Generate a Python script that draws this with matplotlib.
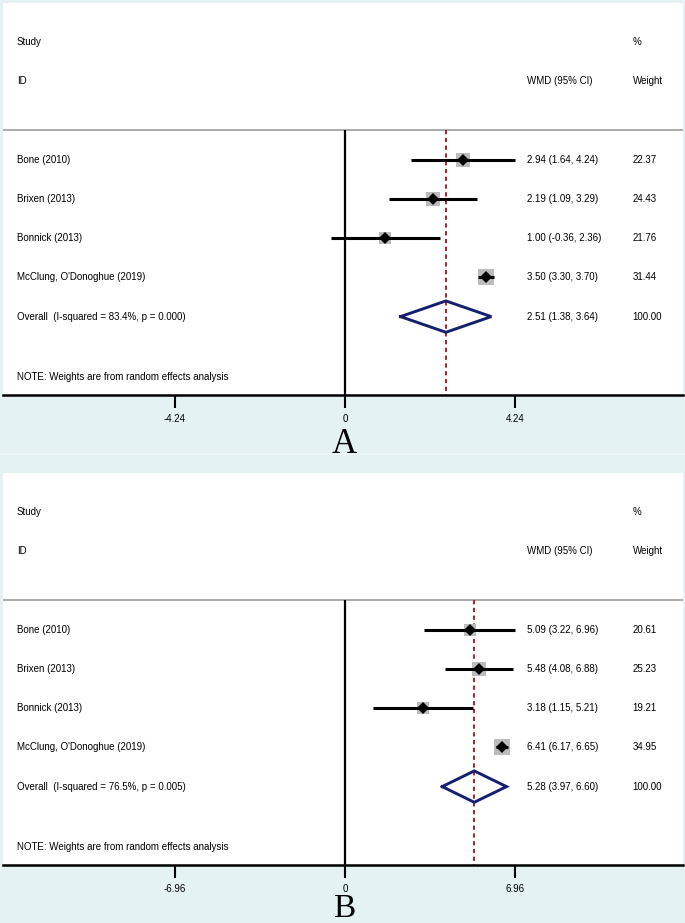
import matplotlib
matplotlib.use("Agg")
import matplotlib.pyplot as plt
import numpy as np

# --- data ---
studies = ["Bone (2010)", "Brixen (2013)", "Bonnick (2013)", "McClung, O'Donoghue (2019)"]

# panel A
a_wmd = [2.94, 2.19, 1.00, 3.50]
a_lo = [1.64, 1.09, -0.36, 3.30]
a_hi = [4.24, 3.29, 2.36, 3.70]
a_weight = [22.37, 24.43, 21.76, 31.44]
a_overall = [2.51, 1.38, 3.64]
a_het = "Overall  (I-squared = 83.4%, p = 0.000)"
a_tick = 4.24

# panel B
b_wmd = [5.09, 5.48, 3.18, 6.41]
b_lo = [3.22, 4.08, 1.15, 6.17]
b_hi = [6.96, 6.88, 5.21, 6.65]
b_weight = [20.61, 25.23, 19.21, 34.95]
b_overall = [5.28, 3.97, 6.60]
b_het = "Overall  (I-squared = 76.5%, p = 0.005)"
b_tick = 6.96

BG = "#e4f2f4"
NAVY = "#141f70"
RED = "#b02020"
BOX = "#bcbcbc"
FONT = "Liberation Sans"
FS = 7.0

W, H = 685, 923
fig = plt.figure(figsize=(W / 100, H / 100), dpi=100, facecolor=BG)


def px_box(top, bottom, left=3, right=683):
    # figure-fraction rect from pixel edges
    return [left / W, 1 - bottom / H, (right - left) / W, (bottom - top) / H]


def draw_panel(ax, wmd, lo, hi, weight, overall, het, tick):
    ax.set_facecolor("white")
    ax.set_xlim(-2.01 * tick, 1.985 * tick)
    ax.set_ylim(7, -3)
    rows = np.arange(1, len(wmd) + 1)
    sep = 0.235

    # header text
    tx = ax.get_yaxis_transform()  # x in axes fraction, y in data
    ax.text(0.0205, -2, "Study", transform=tx, va="center", fontsize=FS, family=FONT)
    ax.text(0.0205, -1, "ID", transform=tx, va="center", fontsize=FS, family=FONT)
    ax.text(0.770, -1, "WMD (95% CI)", transform=tx, va="center", fontsize=FS, family=FONT)
    ax.text(0.926, -2, "%", transform=tx, va="center", fontsize=FS, family=FONT)
    ax.text(0.926, -1, "Weight", transform=tx, va="center", fontsize=FS, family=FONT)
    ax.axhline(sep, color="#ababab", lw=1.4)

    # reference lines
    ax.vlines(0, sep, 7, color="black", lw=1.6)
    ax.vlines(overall[0], sep, 7, color=RED, lw=1.4, linestyles=(0, (2.2, 1.8)))

    # studies
    for r, name, m, l, h, w in zip(rows, studies, wmd, lo, hi, weight):
        ax.plot(m, r, marker="s", ms=2.0 * np.sqrt(w), color=BOX, mew=0, zorder=2)
        ax.hlines(r, l, h, color="black", lw=2.2, zorder=3)
        ax.plot(m, r, marker="D", ms=5.8, color="black", mew=0, zorder=4)
        ax.text(0.0205, r, name, transform=tx, va="center", fontsize=FS, family=FONT)
        ax.text(0.770, r, f"{m:.2f} ({l:.2f}, {h:.2f})", transform=tx, va="center",
                fontsize=FS, family=FONT)
        ax.text(0.926, r, f"{w:.2f}", transform=tx, va="center", fontsize=FS, family=FONT)

    # pooled diamond
    ro = len(wmd) + 1
    m, l, h = overall
    ax.plot([l, m, h, m, l], [ro, ro - 0.4, ro, ro + 0.4, ro], color=NAVY, lw=2.1,
            solid_joinstyle="miter", zorder=4)
    ax.text(0.0205, ro, het, transform=tx, va="center", fontsize=FS, family=FONT)
    ax.text(0.770, ro, f"{m:.2f} ({l:.2f}, {h:.2f})", transform=tx, va="center",
            fontsize=FS, family=FONT)
    ax.text(0.926, ro, f"{sum(weight):.2f}", transform=tx, va="center", fontsize=FS, family=FONT)
    ax.text(0.0205, 6.55, "NOTE: Weights are from random effects analysis", transform=tx,
            va="center", fontsize=FS, family=FONT)

    # axis
    for s in ["top", "left", "right"]:
        ax.spines[s].set_visible(False)
    ax.spines["bottom"].set_linewidth(1.8)
    ax.set_yticks([])
    ax.set_xticks([-tick, 0, tick])
    ax.set_xticklabels([f"{-tick:.2f}", "0", f"{tick:.2f}"])
    ax.tick_params(axis="x", direction="out", length=9.5, width=1.5, pad=4.5,
                   labelsize=FS)
    for lab in ax.get_xticklabels():
        lab.set_family(FONT)


ax_a = fig.add_axes(px_box(3, 395))
draw_panel(ax_a, a_wmd, a_lo, a_hi, a_weight, a_overall, a_het, a_tick)
ax_b = fig.add_axes(px_box(473, 865))
draw_panel(ax_b, b_wmd, b_lo, b_hi, b_weight, b_overall, b_het, b_tick)

# thin light strip between the two panels
fig.add_artist(plt.Line2D([0, 1], [1 - 454 / H, 1 - 454 / H], color="#f1f9fa", lw=1.2))

fig.text(344 / W, 1 - 453 / H, "A", ha="center", va="baseline", fontsize=25,
         family="Liberation Serif")
fig.text(344 / W, 1 - 917 / H, "B", ha="center", va="baseline", fontsize=24,
         family="Liberation Serif")

fig.savefig("out.png", dpi=100, facecolor=BG)
